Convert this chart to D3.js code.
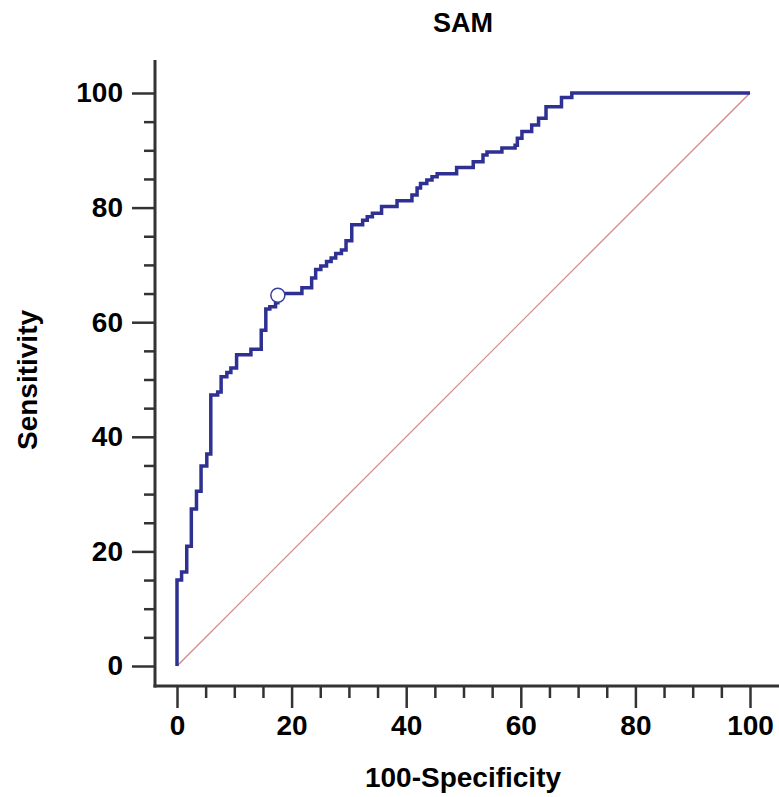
<!DOCTYPE html>
<html>
<head>
<meta charset="utf-8">
<script src="https://cdn.jsdelivr.net/npm/d3@7"></script>
<style>
  body { margin: 0; background: #ffffff; }
  text { font-family: "Liberation Sans", Arial, sans-serif; font-weight: bold; fill: #000; }
</style>
</head>
<body>
<div id="rocPlot"></div>
<script>
// ROC curve for SAM
const title = "SAM";
const xLabel = "100-Specificity";
const yLabel = "Sensitivity";

// top of each vertical jump of the step curve: [100-specificity, sensitivity]
const rocFpr = [0, 0, 0.8, 1.7, 2.5, 3.4, 4.2, 5.2, 5.9, 7.1, 7.7, 8.7, 9.4, 10.4, 12.9, 14.7,
    15.5, 16.2, 17.2, 17.6, 21.8, 23.5, 24.2, 25.1, 26.1, 26.9, 27.7, 28.7, 29.5, 30.5,
    32.4, 33.2, 34.1, 35.7, 38.4, 41.0, 41.9, 42.5, 43.6, 44.5, 45.4, 48.8, 51.7, 53.4,
    54.1, 56.7, 59.0, 59.4, 60.2, 61.9, 63.1, 64.4, 67.1, 68.9, 100];
const rocSens = [0, 15.0, 16.4, 20.9, 27.4, 30.5, 34.9, 37.0, 47.3, 47.8, 50.5, 51.2, 52.0, 54.3, 55.3, 58.6,
    62.3, 62.7, 63.4, 65.0, 66.0, 67.7, 69.2, 69.8, 70.6, 71.2, 72.0, 72.6, 74.2, 77.0,
    77.8, 78.4, 79.0, 80.2, 81.2, 82.2, 83.4, 84.2, 84.8, 85.4, 85.9, 87.0, 88.0, 89.2,
    89.7, 90.4, 90.9, 92.1, 93.3, 94.4, 95.6, 97.6, 99.2, 100, 100];

// criterion point marked with a circle
const cutFpr = 17.6;
const cutSens = 64.7;

const majorTicks = [0, 20, 40, 60, 80, 100];
const minorTicks = d3.range(0, 101, 5).filter(v => v % 20 !== 0);

const width = 779, height = 797;

const svg = d3.select("#rocPlot")
    .append("svg")
    .attr("width", width)
    .attr("height", height);

const x = d3.scaleLinear().domain([0, 100]).range([177, 750]);
const y = d3.scaleLinear().domain([0, 100]).range([666, 93]);

const axisLeftX = 155;
const axisBottomY = 686;

// title
svg.append("text")
    .attr("x", 463)
    .attr("y", 32)
    .attr("text-anchor", "middle")
    .style("font-size", "27px")
    .text(title);

// Y axis ticks
svg.append("g")
    .attr("transform", "translate(" + axisLeftX + ",0)")
    .call(d3.axisLeft(y).tickValues(minorTicks).tickSize(11).tickFormat(""))
    .call(g => g.select(".domain").remove())
    .call(g => g.selectAll("line").attr("stroke", "#333").attr("stroke-width", 2.5));

svg.append("g")
    .attr("transform", "translate(" + axisLeftX + ",0)")
    .call(d3.axisLeft(y).tickValues(majorTicks).tickSize(23).tickPadding(9))
    .call(g => g.select(".domain").remove())
    .call(g => g.selectAll("line").attr("stroke", "#333").attr("stroke-width", 2.5))
    .call(g => g.selectAll("text").style("font-size", "28px").attr("fill", "#000"));

// X axis ticks
svg.append("g")
    .attr("transform", "translate(0," + axisBottomY + ")")
    .call(d3.axisBottom(x).tickValues(minorTicks).tickSize(12).tickFormat(""))
    .call(g => g.select(".domain").remove())
    .call(g => g.selectAll("line").attr("stroke", "#333").attr("stroke-width", 2.5));

svg.append("g")
    .attr("transform", "translate(0," + axisBottomY + ")")
    .call(d3.axisBottom(x).tickValues(majorTicks).tickSize(22).tickPadding(7))
    .call(g => g.select(".domain").remove())
    .call(g => g.selectAll("line").attr("stroke", "#333").attr("stroke-width", 2.5))
    .call(g => g.selectAll("text").style("font-size", "28px").attr("fill", "#000"));

// axis lines
svg.append("line")
    .attr("x1", axisLeftX).attr("x2", axisLeftX)
    .attr("y1", 60).attr("y2", axisBottomY + 1.5)
    .attr("stroke", "#333").attr("stroke-width", 3);
svg.append("line")
    .attr("x1", axisLeftX - 1.5).attr("x2", width)
    .attr("y1", axisBottomY).attr("y2", axisBottomY)
    .attr("stroke", "#333").attr("stroke-width", 3);

// axis titles
svg.append("text")
    .attr("x", 463)
    .attr("y", 787)
    .attr("text-anchor", "middle")
    .style("font-size", "28px")
    .text(xLabel);

svg.append("text")
    .attr("transform", "translate(37,380) rotate(-90)")
    .attr("text-anchor", "middle")
    .style("font-size", "28px")
    .text(yLabel);

// reference diagonal
svg.append("line")
    .attr("x1", x(0)).attr("y1", y(0))
    .attr("x2", x(100)).attr("y2", y(100))
    .attr("stroke", "#c98585")
    .attr("stroke-width", 1.2);

// ROC step curve
const rocData = rocFpr.map((f, i) => ({fpr: f, sens: rocSens[i]}));
const rocLine = d3.line()
    .x(d => x(d.fpr))
    .y(d => y(d.sens))
    .curve(d3.curveStepAfter);

svg.append("path")
    .datum(rocData)
    .attr("d", rocLine)
    .attr("fill", "none")
    .attr("stroke", "#2e3192")
    .attr("stroke-width", 3.5)
    .attr("stroke-linejoin", "miter");

svg.append("circle")
    .attr("cx", x(cutFpr))
    .attr("cy", y(cutSens))
    .attr("r", 7)
    .attr("fill", "#fff")
    .attr("stroke", "#3a3f9e")
    .attr("stroke-width", 1.5);
</script>
</body>
</html>
